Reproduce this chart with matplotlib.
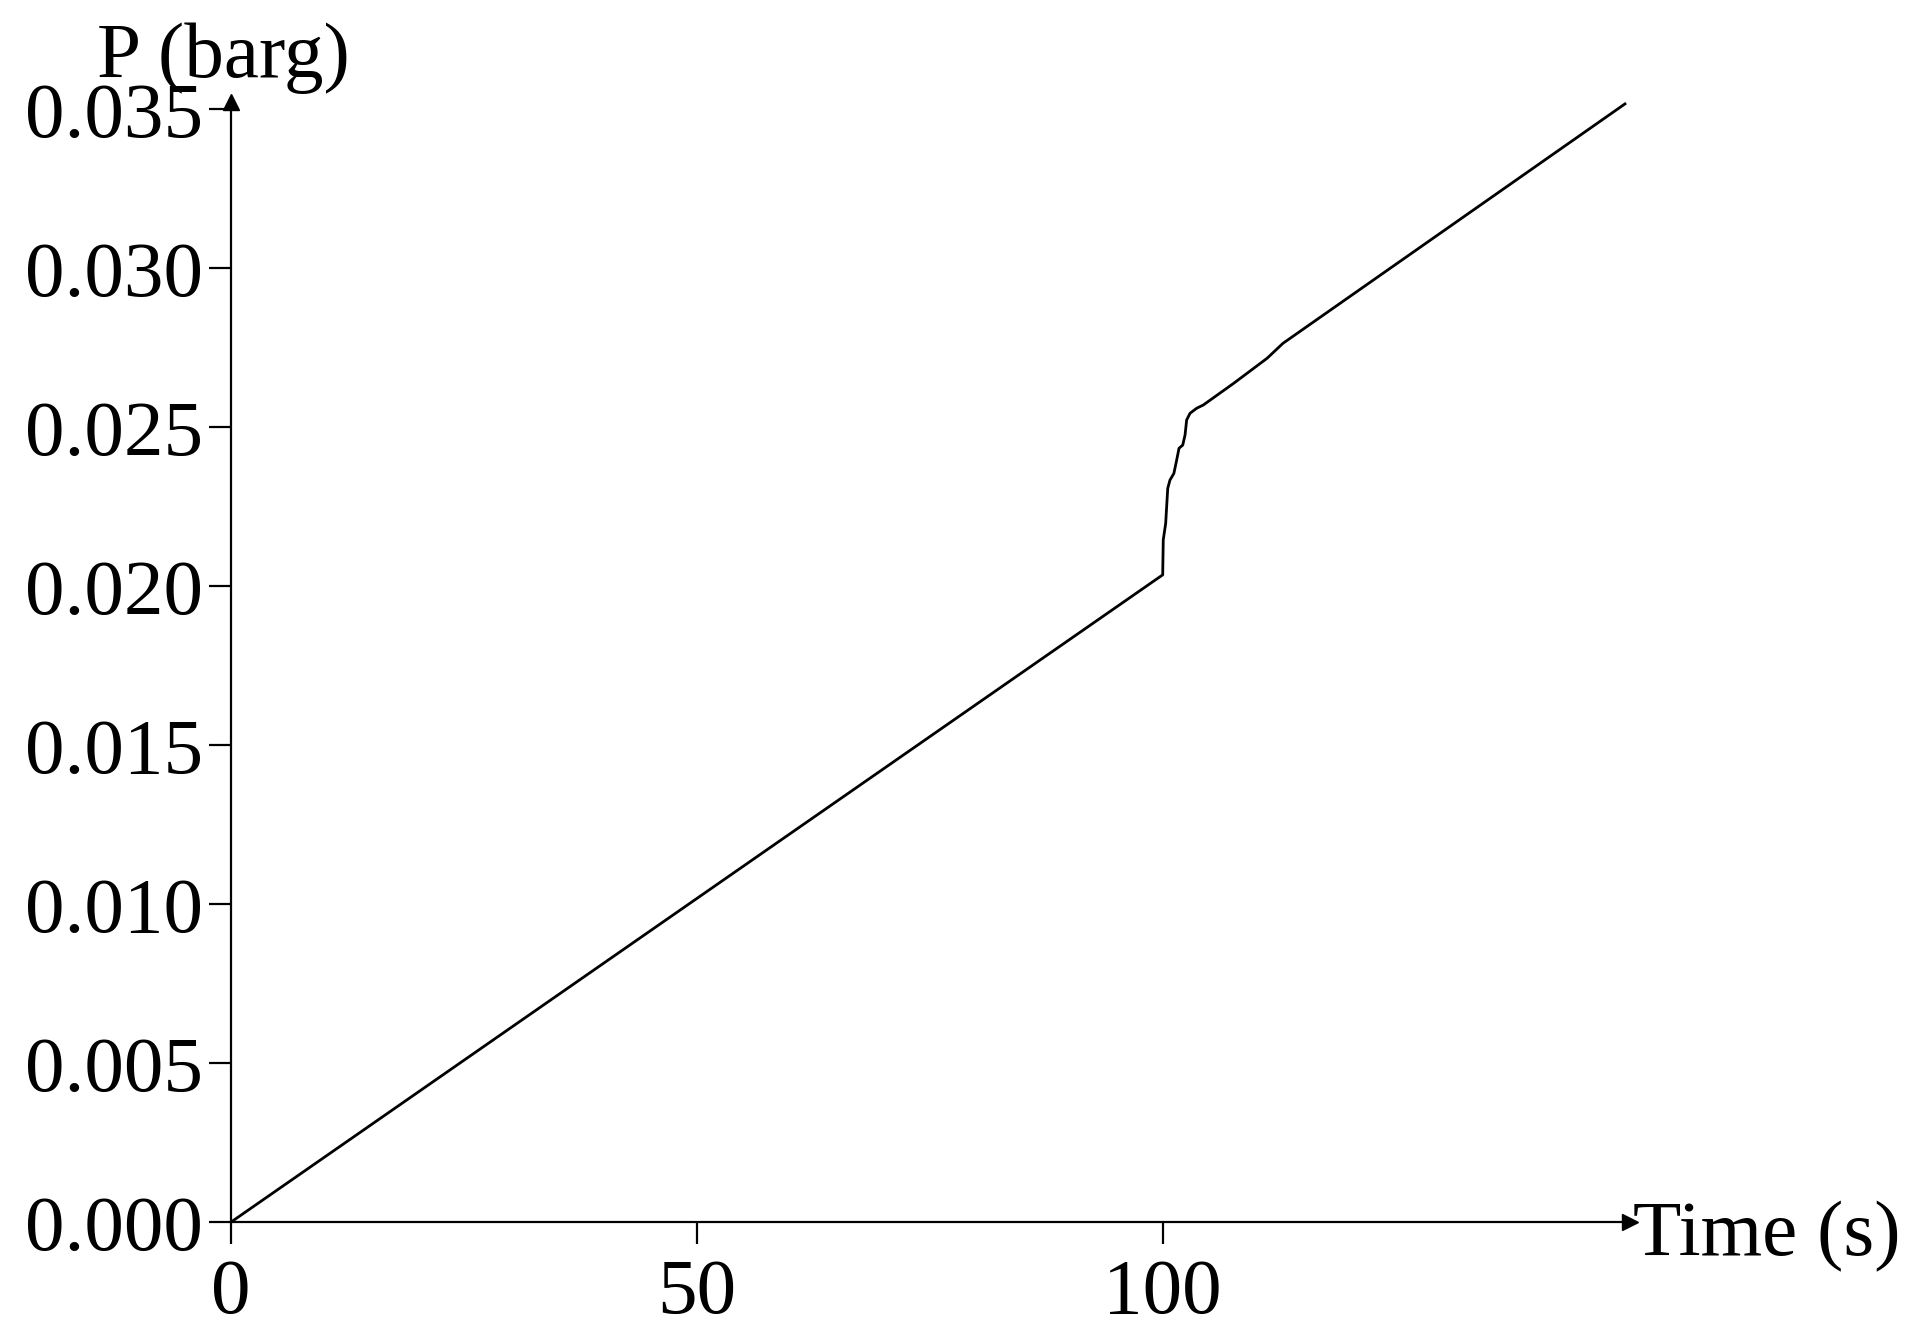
import matplotlib
matplotlib.use("Agg")
import matplotlib.pyplot as plt

# Data
time_s = [0, 100.0, 100.06, 100.32, 100.54, 100.78, 101.2, 101.5, 101.75, 102.15,
          102.4, 102.57, 102.93, 103.65, 104.35, 107.6, 111.2, 112.9, 149.6]
pressure_barg = [0, 0.02036, 0.02146, 0.02198, 0.02308, 0.02334, 0.02355, 0.02397, 0.02434,
                 0.02444, 0.02476, 0.02523, 0.02544, 0.0256, 0.0257, 0.02638, 0.02717,
                 0.02764, 0.03517]
x_ticks = [0, 50, 100]
y_ticks = [0.000, 0.005, 0.010, 0.015, 0.020, 0.025, 0.030, 0.035]
y_tick_labels = ["0.000", "0.005", "0.010", "0.015", "0.020", "0.025", "0.030", "0.035"]

plt.rcParams['font.family'] = ['Liberation Serif', 'DejaVu Serif']
FS = 57

W, H = 1918, 1342
fig = plt.figure(figsize=(W / 100, H / 100), dpi=100)
ax = fig.add_axes([230.7 / W, (H - 1222.3) / H, (1630 - 230.7) / W, (1222.3 - 101.7) / H])

ax.plot(time_s, pressure_barg, color='black', lw=2.0, solid_joinstyle='round')

ax.set_xlim(0, 150.14)
ax.set_ylim(0, 0.035239)
ax.set_xticks(x_ticks)
ax.set_xticklabels([str(v) for v in x_ticks])
ax.set_yticks(y_ticks)
ax.set_yticklabels(y_tick_labels)

for s in ['top', 'right']:
    ax.spines[s].set_visible(False)
for s in ['left', 'bottom']:
    ax.spines[s].set_linewidth(1.6)
    ax.spines[s].set_color('black')

ax.tick_params(axis='both', direction='out', length=16, width=1.6, labelsize=FS, colors='black')
ax.tick_params(axis='x', pad=10)
ax.tick_params(axis='y', pad=4)

# arrow heads at axis ends
ax.plot(1, 0, marker='>', color='black', markersize=11, transform=ax.transAxes, clip_on=False)
ax.plot(0, 1, marker='^', color='black', markersize=11, transform=ax.transAxes, clip_on=False)

fig.text(97 / W, (H - 77) / H, "P (barg)", fontsize=FS, ha='left', va='baseline')
fig.text(1633 / W, (H - 1255) / H, "Time (s)", fontsize=FS, ha='left', va='baseline')

fig.savefig("out.png", dpi=100, facecolor='white')
